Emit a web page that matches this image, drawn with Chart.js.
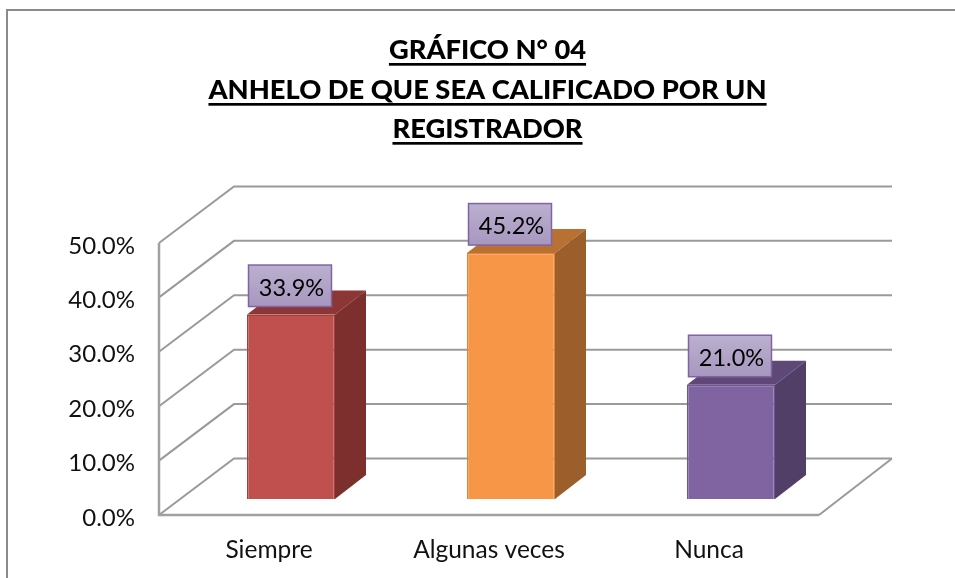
<!DOCTYPE html>
<html>
<head>
<meta charset="utf-8">
<script src="https://cdn.jsdelivr.net/npm/chart.js@4"></script>
<style>
  html, body { margin: 0; padding: 0; background: #fff; overflow: hidden; }
  #wrap { width: 955px; height: 578px; }
</style>
</head>
<body>
<div id="wrap"><canvas id="chart" width="955" height="578"></canvas></div>
<script>
const titleLines = ['GRÁFICO N° 04', 'ANHELO DE QUE SEA CALIFICADO POR UN', 'REGISTRADOR'];
const categories = ['Siempre', 'Algunas veces', 'Nunca'];
const values = [33.9, 45.2, 21.0];
const frontColors = ['#C0504D', '#F79646', '#8064A2'];
const borderColors = ['#A53F3C', '#E0853A', '#6F5592'];
const topColors = ['#8C3635', '#B87033', '#5F4878'];
const sideColors = ['#7D2F2E', '#9C5F2B', '#523F68'];

// Depth of the 3D box and how far bars sit in from the front of the floor
const WALL_DX = 75, WALL_DY = -56.5;
const BAR_DX = 22, BAR_DY = -16;
const SIDE_DX = 31, SIDE_DY = -24;
const LINE_GREY = '#9A9A9A';

function poly(ctx, pts, fill) {
  ctx.beginPath();
  pts.forEach((p, i) => (i ? ctx.lineTo(p[0], p[1]) : ctx.moveTo(p[0], p[1])));
  ctx.closePath();
  ctx.fillStyle = fill;
  ctx.fill();
}

const box3d = {
  id: 'box3d',
  afterLayout(chart) {
    // title centre sits a little left of the plot centre
    chart.titleBlock.left -= 3;
  },
  beforeDatasetsDraw(chart) {
    const { ctx, scales: { x, y } } = chart;
    const left = x.left, right = x.right, y0 = y.getPixelForValue(0);

    // outer frame, open at the bottom and right
    ctx.save();
    ctx.strokeStyle = '#8A8A8A';
    ctx.lineWidth = 2;
    ctx.beginPath();
    ctx.moveTo(7, 578);
    ctx.lineTo(7, 10);
    ctx.lineTo(955, 10);
    ctx.stroke();

    // grid lines: side wall diagonal, then along the back wall
    ctx.strokeStyle = LINE_GREY;
    y.ticks.forEach((t) => {
      const py = y.getPixelForValue(t.value);
      ctx.lineWidth = 2;
      ctx.beginPath();
      ctx.moveTo(left, py);
      ctx.lineTo(left + WALL_DX, py + WALL_DY);
      ctx.lineTo(right + WALL_DX - 2, py + WALL_DY);
      ctx.stroke();
    });

    // floor edge on the right
    ctx.beginPath();
    ctx.moveTo(right, y0);
    ctx.lineTo(right + WALL_DX - 2, y0 + WALL_DY);
    ctx.stroke();

    // front axis lines
    ctx.lineWidth = 2.5;
    ctx.strokeStyle = '#A0A0A0';
    ctx.beginPath();
    ctx.moveTo(left, y.getPixelForValue(50));
    ctx.lineTo(left, y0);
    ctx.lineTo(right, y0);
    ctx.stroke();
    ctx.restore();
  },
  beforeDatasetDraw(chart, args) {
    const { ctx } = chart;
    const bars = chart.getDatasetMeta(args.index).data;
    ctx.save();
    ctx.translate(BAR_DX, BAR_DY);
    // side and top faces go behind the front face drawn by the library
    bars.forEach((el, i) => {
      const l = el.x - el.width / 2, r = el.x + el.width / 2;
      poly(ctx, [[l, el.y], [r, el.y], [r + SIDE_DX, el.y + SIDE_DY], [l + SIDE_DX, el.y + SIDE_DY]], topColors[i]);
      poly(ctx, [[r, el.y], [r + SIDE_DX, el.y + SIDE_DY], [r + SIDE_DX, el.base + SIDE_DY], [r, el.base]], sideColors[i]);
    });
  },
  afterDatasetDraw(chart) {
    chart.ctx.restore();
  },
  afterDatasetsDraw(chart) {
    const { ctx } = chart;
    const bars = chart.getDatasetMeta(0).data;
    const w = 83, h = 41.5;
    ctx.save();
    bars.forEach((el, i) => {
      const cx = el.x + BAR_DX - 1;
      const bottom = el.y + BAR_DY - 8;
      const g = ctx.createLinearGradient(0, bottom - h, 0, bottom);
      g.addColorStop(0, '#BBB0CF');
      g.addColorStop(1, '#A797BF');
      ctx.fillStyle = g;
      ctx.fillRect(cx - w / 2, bottom - h, w, h);
      ctx.strokeStyle = '#8064A2';
      ctx.lineWidth = 1.5;
      ctx.strokeRect(cx - w / 2, bottom - h, w, h);
      ctx.fillStyle = '#000';
      ctx.font = '23.5px Lato';
      ctx.textAlign = 'center';
      ctx.textBaseline = 'middle';
      ctx.fillText(values[i].toFixed(1) + '%', cx + 1.5, bottom - h / 2 + 2.5);
    });
    ctx.restore();
  },
  afterDraw(chart) {
    // Chart.js has no underlined title, so rule under each line
    const { ctx, titleBlock } = chart;
    const cx = (titleBlock.left + titleBlock.right) / 2;
    const unders = [63, 103, 142];
    ctx.save();
    ctx.font = titleFont.weight + ' ' + titleFont.size + 'px ' + titleFont.family;
    ctx.fillStyle = '#000';
    titleLines.forEach((line, i) => {
      const tw = ctx.measureText(line).width;
      ctx.fillRect(cx - tw / 2, unders[i], tw, 2.7);
    });
    ctx.restore();
  }
};

const titleFont = { family: 'Lato', size: 27.3, weight: '900', lineHeight: 1.44 };

new Chart(document.getElementById('chart'), {
  type: 'bar',
  data: {
    labels: categories,
    datasets: [{
      data: values,
      backgroundColor: frontColors,
      borderColor: borderColors,
      borderWidth: 1.5,
      barPercentage: 0.4,
      categoryPercentage: 1
    }]
  },
  options: {
    responsive: false,
    animation: false,
    layout: { padding: { right: 136 } },
    plugins: {
      legend: { display: false },
      tooltip: { enabled: false },
      title: {
        display: true,
        fullSize: false,
        text: titleLines,
        color: '#000',
        font: titleFont,
        padding: { top: 31, bottom: 94 }
      }
    },
    scales: {
      x: {
        grid: { display: false },
        border: { display: false },
        ticks: { color: '#111', font: { family: 'Lato', size: 24.5 }, padding: 12, maxRotation: 0 },
        afterFit(scale) { scale.height = 63; }
      },
      y: {
        min: 0,
        max: 50,
        grid: { display: false },
        border: { display: false },
        ticks: {
          stepSize: 10,
          color: '#111',
          font: { family: 'Lato', size: 24 },
          padding: 16,
          labelOffset: 3,
          callback: (v) => v.toFixed(1) + '%'
        },
        afterFit(scale) { scale.width = 159; }
      }
    }
  },
  plugins: [box3d]
});
</script>
</body>
</html>
